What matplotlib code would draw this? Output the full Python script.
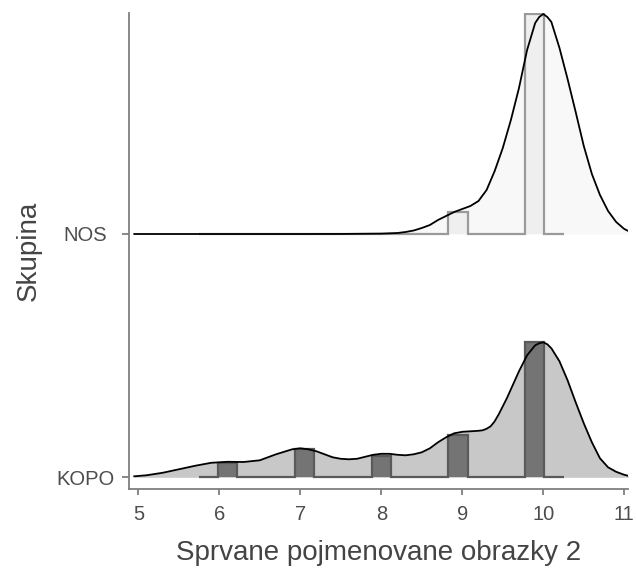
import matplotlib.pyplot as plt
import numpy as np

plt.rcParams['font.family'] = ['Liberation Sans', 'DejaVu Sans']

# ridge groups (bottom to top)
groups = ['KOPO', 'NOS']

# density curves (height in px, 243.3 px = one ridge step)
kopo_x = [4.95, 5.1, 5.3, 5.5, 5.7, 5.9, 6.1, 6.3, 6.5, 6.7, 6.9, 7.0, 7.1, 7.2, 7.3,
          7.4, 7.5, 7.6, 7.7, 7.8, 7.9, 8.0, 8.1, 8.2, 8.3, 8.4, 8.5, 8.6, 8.7, 8.8,
          8.9, 9.0, 9.1, 9.2, 9.25, 9.3, 9.35, 9.4, 9.45, 9.5, 9.55, 9.6, 9.7, 9.8,
          9.9, 9.95, 10.0, 10.05, 10.1, 10.2, 10.3, 10.4, 10.5, 10.6, 10.7, 10.8,
          10.9, 11.0, 11.05]
kopo_px = [1, 2, 4.5, 8, 11.5, 14.5, 15.5, 15.3, 17, 23, 28, 29, 28, 26, 23,
           20, 18.5, 18, 18.5, 20.5, 22.5, 23.5, 23.5, 22.5, 22, 23, 25, 29, 35, 40,
           44, 45.5, 46, 46.5, 47, 48.5, 51, 56, 63, 71, 79, 88, 106, 122,
           132, 134, 135, 133, 129, 116, 97, 75, 54, 35, 19, 10,
           5.5, 2.5, 1.5]

nos_x = [4.95, 6.0, 7.0, 7.5, 8.0, 8.2, 8.3, 8.4, 8.5, 8.6, 8.7, 8.8, 8.9, 9.0, 9.1,
         9.2, 9.3, 9.4, 9.5, 9.6, 9.7, 9.8, 9.9, 9.95, 10.0, 10.05, 10.1, 10.2, 10.3,
         10.4, 10.5, 10.6, 10.7, 10.8, 10.9, 11.0, 11.05]
nos_px = [0, 0, 0, 0.05, 0.4, 1, 2, 3.5, 6, 9, 14, 18, 22, 25, 28,
          33, 44, 63, 86, 114, 146, 184, 211, 217, 220, 217, 212, 186, 155,
          122, 88, 60, 39, 23, 12, 5, 3]

# scores and how often they occur (histogram)
scores = [6, 7, 8, 9, 10]
kopo_counts = [2, 4, 3, 6, 19]
nos_counts = [0, 0, 0, 3, 30]

bin_edges = np.linspace(5.75, 10.25, 20)
PX = 243.3

ridges = [
    (kopo_x, kopo_px, kopo_counts, '#c8c8c8', '#747474', '#5a5a5a'),
    (nos_x, nos_px, nos_counts, '#f8f8f8', '#efefef', '#9a9a9a'),
]

fig = plt.figure(figsize=(6.36, 5.73), dpi=100)
ax = fig.add_axes([129/636, (573-489)/573, (628-129)/636, (489-13)/573])

for base in [1, 0]:
    dx, dpx, cnt, dfill, bfill, bedge = ridges[base]
    dy = np.array(dpx) / PX
    ax.fill_between(dx, base, base + dy, color=dfill, lw=0, zorder=2)
    h, _ = np.histogram(scores, bins=bin_edges, weights=cnt)
    h = h / h.max() * dy.max()
    ax.stairs(base + h, bin_edges, baseline=base, fill=True, color=bfill, lw=0, zorder=3)
    ax.stairs(base + h, bin_edges, baseline=base, color=bedge, lw=1.6, zorder=4)
    ax.plot(dx, base + dy, color='black', lw=1.3, zorder=5, solid_joinstyle='round')

ax.set_xlim(4.885, 11.046)
ax.set_ylim(-11.7/PX, (477.3-13)/PX)
ax.set_xticks([5, 6, 7, 8, 9, 10, 11])
ax.set_yticks([0, 1])
ax.set_yticklabels(groups, ha='center')

for s in ['top', 'right']:
    ax.spines[s].set_visible(False)
for s in ['left', 'bottom']:
    ax.spines[s].set_color('#7f7f7f')
    ax.spines[s].set_linewidth(1.3)
ax.tick_params(colors='#7f7f7f', labelcolor='#4d4d4d', labelsize=14.5, width=1.3)
ax.tick_params(axis='y', length=5, pad=26.5)
ax.tick_params(axis='x', length=4.3, pad=7.5)

ax.set_xlabel('Sprvane pojmenovane obrazky 2', fontsize=20, color='#444444', labelpad=11)
ax.set_ylabel('Skupina', fontsize=20, color='#444444', labelpad=10)

fig.savefig('out.png', dpi=100)
